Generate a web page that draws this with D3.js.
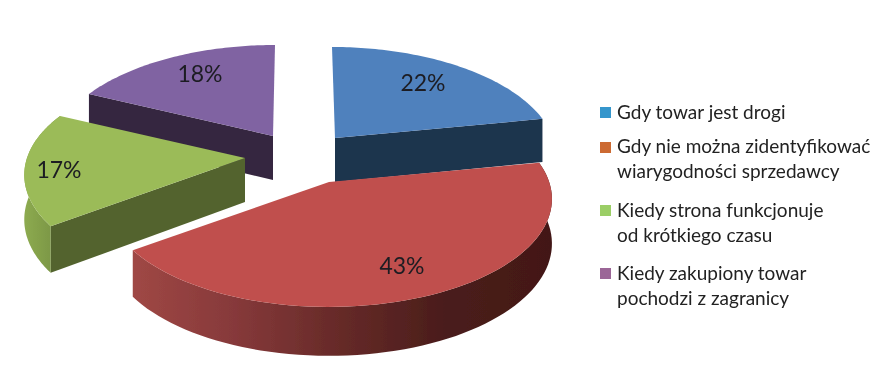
<!DOCTYPE html>
<html><head><meta charset="utf-8">
<script src="https://cdn.jsdelivr.net/npm/d3@7"></script>
<style>html,body{margin:0;background:#fff}svg{display:block}</style></head>
<body><svg id="c" width="896" height="383"></svg>
<script>
const categories=["Gdy towar jest drogi","Gdy nie można zidentyfikować wiarygodności sprzedawcy","Kiedy strona funkcjonuje od krótkiego czasu","Kiedy zakupiony towar pochodzi z zagranicy"];
const values=[22,43,17,18];
const labels=["22%","43%","17%","18%"];
const legendLines=[["Gdy towar jest drogi"],["Gdy nie można zidentyfikować","wiarygodności sprzedawcy"],["Kiedy strona funkcjonuje","od krótkiego czasu"],["Kiedy zakupiony towar","pochodzi z zagranicy"]];
const topColors=["#4f81bd","#c0504d","#9bbb59","#8064a2"];
const wallColors=["#1f344e","#4a1c1a","#53642e","#35263f"];
const legendColors=["#3596cc","#cc6a33","#9bce66","#9b6697"];
const apexes=[[335,138],[329,182],[245,158],[273,136]];
const radial=[1,1.01,1,1];
const lean=[-3,0,0,2];
const labelPos=[[423,83],[402,266],[59,170],[200,74]];

const R=218,A=105.3,P=0.157,DEPTH=44;
const svg=d3.select("#c");
const defs=svg.append("defs");
defs.append("filter").attr("id","soft").append("feGaussianBlur").attr("stdDeviation",0.45);
defs.append("filter").attr("id","softText").append("feGaussianBlur").attr("stdDeviation",0.3);
const redG=defs.append("linearGradient").attr("id","redWall").attr("gradientUnits","userSpaceOnUse")
  .attr("x1",130).attr("x2",550).attr("y1",0).attr("y2",0);
[[0,"#a04845"],[0.25,"#86393a"],[0.5,"#662a28"],[0.75,"#4a1d1b"],[1,"#431816"]].forEach(s=>redG.append("stop").attr("offset",s[0]).attr("stop-color",s[1]));
const grnG=defs.append("linearGradient").attr("id","grnWall").attr("gradientUnits","userSpaceOnUse")
  .attr("x1",24).attr("x2",55).attr("y1",0).attr("y2",0);
[[0,"#8dab50"],[1,"#7a9544"]].forEach(s=>grnG.append("stop").attr("offset",s[0]).attr("stop-color",s[1]));

const pie=d3.pie().sort(null).value(d=>d);
const arcs=pie(values);
const line=d3.line().x(d=>d[0]).y(d=>d[1]);

function proj(i,t,down){
  const apex=apexes[i],Z=Math.cos(t),s=1/(1+P*Z);
  const sz=down?1+(s-1)*0.6:1;
  return [apex[0]+R*radial[i]*Math.sin(t)*s+lean[i]*Z, apex[1]-A*Z*s+(down?DEPTH*sz:0)];
}
const layer=svg.append("g").attr("filter","url(#soft)");
function slice(i){
  const a=arcs[i],ap=apexes[i],a0=a.startAngle,a1=a.endAngle;
  const ab=[ap[0],ap[1]+DEPTH];
  const face=(pts,fill)=>layer.append("path").attr("d",line(pts)+"Z").attr("fill",fill);
  const sweep=d3.range(0,73).map(k=>a0+(a1-a0)*k/72);
  // radial walls facing the viewer
  if(i===0) face([ap,proj(i,a1,false),proj(i,a1,true),ab],wallColors[i]);
  if(i===2||i===3) face([ap,proj(i,a0,false),proj(i,a0,true),ab],wallColors[i]);
  // outer curved wall
  if(i===1||i===2){
    const vis=sweep.filter(t=>Math.cos(t)<0.5);
    face([...vis.map(t=>proj(i,t,false)),...vis.slice().reverse().map(t=>proj(i,t,true))],i===1?"url(#redWall)":"url(#grnWall)");
  }
  // top surface
  face([ap,...sweep.map(t=>proj(i,t,false))],topColors[i]);
}
[3,0,2,1].forEach(slice);

svg.append("g").attr("filter","url(#softText)").selectAll("text").data(labels).join("text")
  .attr("x",(d,i)=>labelPos[i][0]).attr("y",(d,i)=>labelPos[i][1]+8)
  .attr("text-anchor","middle").attr("font-family","Lato").attr("font-size",23)
  .attr("fill","#1c1c22").text(d=>d);

const markerY=[107,142,205,268];
const baseY=[[119],[153,178],[217,242],[280,305]];
const lg=svg.append("g").attr("filter","url(#softText)");
categories.forEach((c,i)=>{
  lg.append("rect").attr("x",600).attr("y",markerY[i]).attr("width",11).attr("height",11).attr("fill",legendColors[i]);
  legendLines[i].forEach((t,j)=>lg.append("text").attr("x",617).attr("y",baseY[i][j])
    .attr("font-family","Lato").attr("font-size",19).attr("fill","#222").text(t));
});
</script></body></html>
